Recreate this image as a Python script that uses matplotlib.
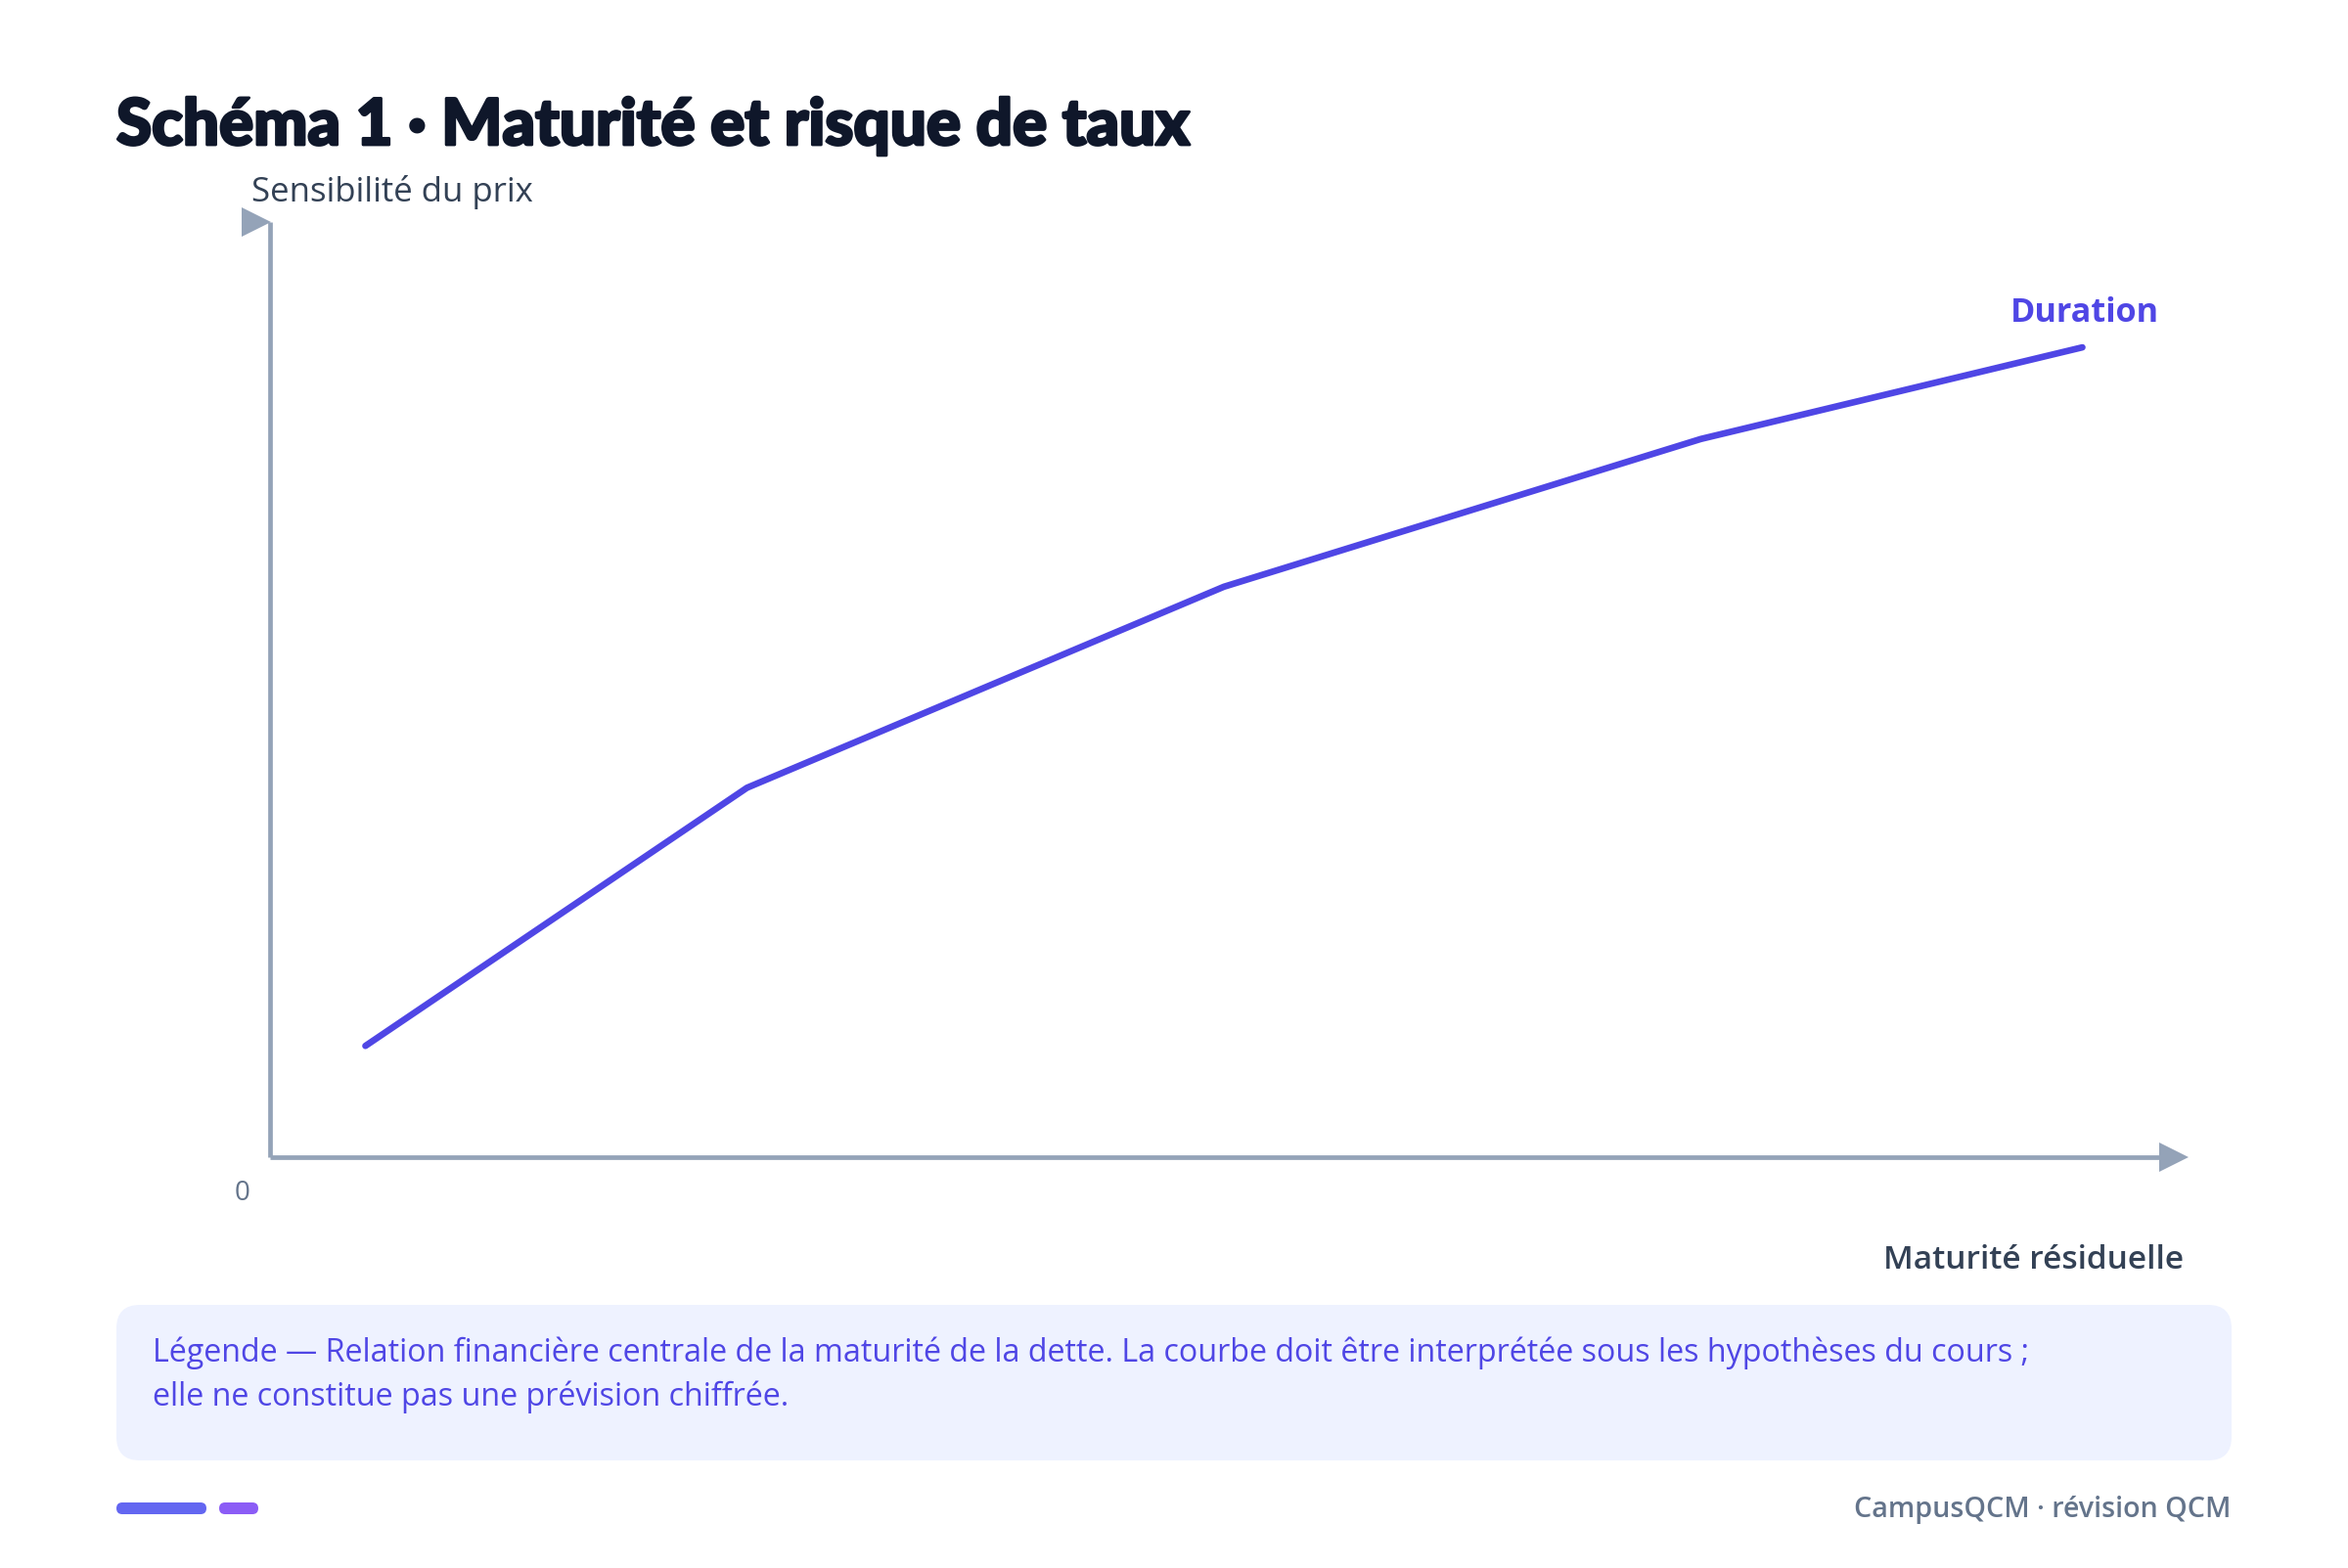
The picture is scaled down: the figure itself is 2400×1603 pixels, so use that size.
import matplotlib
matplotlib.use('Agg')
from matplotlib import pyplot as plt
from matplotlib.patches import FancyBboxPatch
import matplotlib.patheffects as pe

maturite = [0.5, 2.5, 5.0, 7.5, 9.5]
sensibilite = [1.19, 3.95, 6.10, 7.68, 8.66]
titre = "Schéma 1 · Maturité et risque de taux"
label_y = "Sensibilité du prix"
label_x = "Maturité résiduelle"
nom_courbe = "Duration"
legende = ["Légende — Relation financière centrale de la maturité de la dette. "
           "La courbe doit être interprétée sous les hypothèses du cours ;",
           "elle ne constitue pas une prévision chiffrée."]
pied = "CampusQCM · révision QCM"

W, H = 2400, 1603
DPI = 200
INDIGO = '#4f46e5'
AXE = '#94a3b8'
TXT = '#334155'
GRIS = '#64748b'

plt.rcParams['font.family'] = ['Open Sans', 'DejaVu Sans']

fig = plt.figure(figsize=(W/DPI, H/DPI), dpi=DPI)
fig.patch.set_facecolor('white')

# calque en pixels pour les textes et les cadres
fond = fig.add_axes([0, 0, 1, 1], zorder=0)
fond.set_xlim(0, W)
fond.set_ylim(H, 0)
fond.axis('off')

# zone du graphe : origine (276,1183), 1 unité x = 195 px, haut de l'axe y à 227
X0, Y0, X1, Y1 = 276, 1183, 276 + 1950, 227
ax = fig.add_axes([X0/W, 1 - Y0/H, (X1 - X0)/W, (Y0 - Y1)/H], zorder=1)
ax.patch.set_alpha(0)
ax.set_xlim(0, 10)
ax.set_ylim(0, 10)
ax.axis('off')

# axes fléchés
ax.plot([0, 9.92], [0, 0], color=AXE, lw=1.7, clip_on=False, solid_capstyle='butt')
ax.plot([0, 0], [0, 10], color=AXE, lw=1.7, clip_on=False, solid_capstyle='butt')
ax.plot([9.98], [0], marker='>', color=AXE, markersize=11, clip_on=False, markeredgewidth=0)
ax.plot([-0.07], [10.0], marker='>', color=AXE, markersize=11, clip_on=False, markeredgewidth=0)

# courbe
ax.plot(maturite, sensibilite, color=INDIGO, lw=2.4, solid_capstyle='round',
        solid_joinstyle='round', clip_on=False)
fond.text(2131, 320, nom_courbe, color=INDIGO, fontsize=12.3, fontweight='bold',
          ha='center', va='center')

# textes
fond.text(119, 148, titre, fontsize=23.6, fontweight='black',
          family=['Lato', 'DejaVu Sans'], color='#0f172a', ha='left', va='baseline',
          path_effects=[pe.withStroke(linewidth=1.0, foreground='#0f172a')])
fond.text(257, 196, label_y, fontsize=12.5, color=TXT, fontweight='medium',
          ha='left', va='center')
fond.text(2232, 1297, label_x, fontsize=12, color=TXT, fontweight='semibold',
          ha='right', va='baseline')
fond.text(248, 1220, "0", fontsize=10, color=GRIS, ha='center', va='center')

# encadré légende
fond.add_patch(FancyBboxPatch((119, 1334), 2281 - 119, 1493 - 1334,
                              boxstyle='round,pad=0,rounding_size=24',
                              facecolor='#eef2ff', edgecolor='none'))
fond.text(156, 1383, legende[0], fontsize=11.6, color=INDIGO, ha='left', va='center')
fond.text(156, 1428, legende[1], fontsize=11.6, color=INDIGO, ha='left', va='center')

# pied de page
fond.add_patch(FancyBboxPatch((119, 1536), 92, 12,
                              boxstyle='round,pad=0,rounding_size=6',
                              facecolor='#6366f1', edgecolor='none'))
fond.add_patch(FancyBboxPatch((224, 1536), 40, 12,
                              boxstyle='round,pad=0,rounding_size=6',
                              facecolor='#8b5cf6', edgecolor='none'))
fond.text(2280, 1543, pied, fontsize=10.3, color=GRIS, fontweight='semibold',
          ha='right', va='center')

fig.savefig('out.png', dpi=DPI, facecolor='white')
